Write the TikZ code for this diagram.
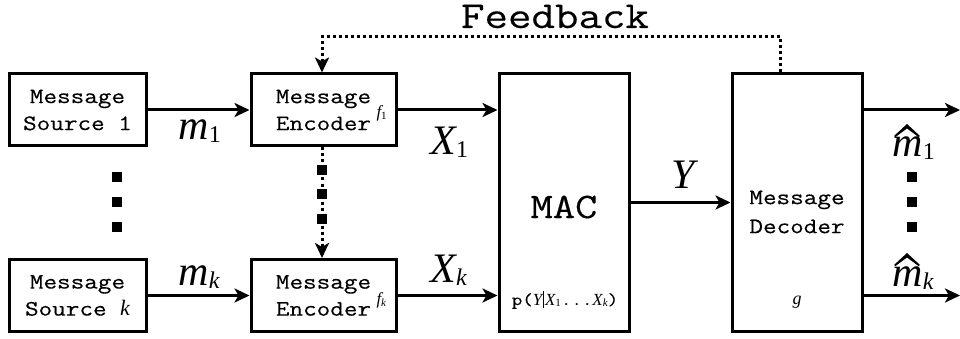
\documentclass[tikz,border=0pt]{standalone}
\usepackage{fontspec}
\setmainfont{Liberation Serif}
\newfontfamily\mono[FakeStretch=1.2,FakeBold=0.3]{Latin Modern Mono}
\newfontfamily\tms{Liberation Serif}
\usetikzlibrary{arrows.meta,calc}
\newcommand{\biglab}[2]{{\tms\fontsize{42}{42}\selectfont\itshape #1}\raisebox{-3pt}{\tms\fontsize{24}{24}\selectfont #2}}
\begin{document}
\begin{tikzpicture}[x=1pt,y=-1pt,line width=3pt,
  box/.style={draw,line width=3pt,inner sep=0pt,align=center,font=\mono\fontsize{22}{27}\selectfont},
  arr/.style={-{Stealth[length=15pt,width=14pt,inset=4pt]},line width=3pt},
  fb/.style={line width=3pt,dash pattern=on 3pt off 3pt},
  sq/.style={fill=black,inner sep=0pt,minimum size=10pt},
  hat/.style={fill=black,draw=none},
  lab/.style={inner sep=0pt,anchor=base west}]
\useasboundingbox (0,0) rectangle (960,339);
% boxes
\node[box,minimum width=137pt,minimum height=72pt] (s1) at (77.5,110) {Message\\Source 1};
\node[box,minimum width=137pt,minimum height=72pt] (sk) at (77.5,295.5) {Message\\Source {\tms\itshape k}};
\node[box,minimum width=145pt,minimum height=72pt] (e1) at (323.5,110) {Message\\Encoder};
\node[box,minimum width=145pt,minimum height=72pt] (ek) at (323.5,295.5) {Message\\Encoder};
\node[box,minimum width=130pt,minimum height=257pt] (mac) at (564,202.5) {};
\node[box,minimum width=130pt,minimum height=257pt] (dec) at (797,202.5) {};
% box texts
\node[inner sep=0pt,font=\mono\fontsize{36}{36}\selectfont] (mactxt) at (564,207) {MAC};
\node[inner sep=0pt,anchor=base,font=\fontsize{17}{17}\selectfont] (pyx) at (565,305)
  {{\mono p(}{\itshape Y}\kern1pt\rule[-3pt]{0.8pt}{17pt}\kern1pt{\itshape X}\raisebox{-1pt}{\fontsize{11}{11}\selectfont 1}{\mono ...}{\itshape X}\raisebox{-1pt}{\fontsize{11}{11}\selectfont\itshape k}{\mono )}};
\node[inner sep=0pt,align=center,font=\mono\fontsize{22}{29}\selectfont] (dectxt) at (797,212) {Message\\Decoder};
\node[inner sep=0pt,anchor=base,font=\fontsize{18}{18}\selectfont\itshape] (g) at (797,304) {g};
\node[lab,font=\fontsize{17}{17}\selectfont] (f1) at (375,118) {{\itshape f}\raisebox{-2pt}{\fontsize{11}{11}\selectfont 1}};
\node[lab,font=\fontsize{17}{17}\selectfont] (fk) at (375,304) {{\itshape f}\raisebox{-2pt}{\fontsize{11}{11}\selectfont\itshape k}};
% connectors
\draw[arr] (s1.east) -- (e1.west);
\draw[arr] (sk.east) -- (ek.west);
\draw[arr] (e1.east) -- (e1.east -| mac.west);
\draw[arr] (ek.east) -- (ek.east -| mac.west);
\draw[arr] (mac.east) -- (dec.west);
\coordinate (o1) at (960,110);
\coordinate (ok) at (960,295.5);
\draw[arr] (dec.east |- o1) -- (o1);
\draw[arr] (dec.east |- ok) -- (ok);
% feedback
\coordinate (fbr) at (780,37);
\coordinate (fbl) at (322,37);
\draw[fb,arr] (dec.north -| fbr) -- (fbr) -- (fbl) -- (e1.north -| fbl);
\node[inner sep=0pt,anchor=base,font=\mono\fontsize{38}{38}\selectfont] (fbtxt) at (555,28) {Feedback};
\draw[fb,arr] (e1.south -| fbl) -- (ek.north -| fbl);
% squares
\node[sq] (c1) at (322,170) {};
\node[sq] (c2) at (322,194) {};
\node[sq] (c3) at (322,219) {};
\node[sq] (l1) at (117,177) {};
\node[sq] (l2) at (117,202) {};
\node[sq] (l3) at (117,227) {};
\node[sq] (r1) at (912,177) {};
\node[sq] (r2) at (912,202) {};
\node[sq] (r3) at (912,227) {};
% labels
\node[lab] (m1) at (177,140) {\biglab{m}{1}};
\node[lab] (mk) at (177,285) {\biglab{m}{\itshape k}};
\node[lab] (x1) at (429,155) {\biglab{X}{1}};
\node[lab] (xk) at (429,282) {\biglab{X}{\itshape k}};
\node[lab] (y) at (670,188) {{\tms\fontsize{42}{42}\selectfont\itshape Y}};
\node[lab] (mh1) at (891,157) {\biglab{m}{1}};
\node[lab] (mhk) at (891,286) {\biglab{m}{\itshape k}};
% hats
\foreach \n in {mh1,mhk}{
  \fill[hat] ($(\n.base west)+(3,-21)$) -- ($(\n.base west)+(16,-33)$) -- ($(\n.base west)+(29,-21)$)
    -- ($(\n.base west)+(27.5,-20)$) -- ($(\n.base west)+(16,-28.5)$) -- ($(\n.base west)+(4.5,-20)$) -- cycle;
}
\end{tikzpicture}
\end{document}
